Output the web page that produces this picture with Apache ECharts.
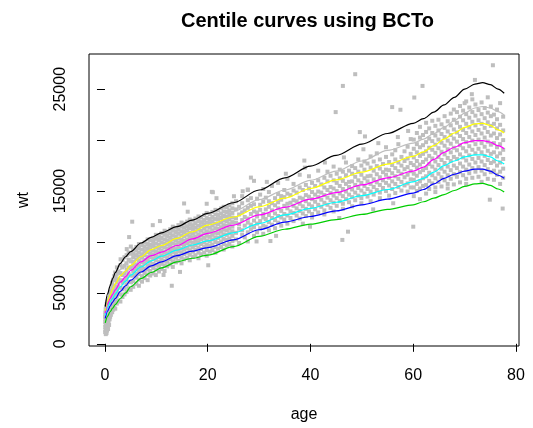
<!DOCTYPE html>
<html>
<head>
<meta charset="utf-8">
<script src="https://cdn.jsdelivr.net/npm/echarts@6/dist/echarts.min.js"></script>
<style>
  html, body { margin: 0; padding: 0; background: #fff; }
  #main { width: 533px; height: 428px; }
</style>
</head>
<body>
<div id="main"></div>
<script>
// centile curves, age in years, wt
var curveAge = [0.05, 0.5, 1, 1.5, 2, 3, 4, 5, 7, 9, 11, 14, 17, 20, 25, 30, 35, 40, 45, 50, 55, 60, 62, 64, 66, 68, 70, 72, 73.5, 75, 76.5, 77.7];
var cGreen   = [2050, 2700, 3150, 3500, 3850, 4450, 5000, 5600, 6400, 7000, 7450, 8050, 8400, 8700, 9550, 10550, 11250, 11750, 12200, 12700, 13200, 13650, 13950, 14300, 14650, 15050, 15450, 15700, 15750, 15550, 15200, 14900];
var cBlue    = [2500, 3200, 3700, 4100, 4450, 5150, 5700, 6250, 7050, 7650, 8050, 8650, 9100, 9450, 10200, 11200, 11950, 12500, 13050, 13650, 14200, 14800, 15150, 15700, 16250, 16650, 16950, 17150, 17150, 16950, 16550, 16250];
var cCyan    = [2800, 3550, 4100, 4450, 4900, 5600, 6150, 6750, 7550, 8150, 8600, 9200, 9700, 10100, 10900, 11800, 12650, 13300, 13900, 14550, 15150, 15900, 16250, 16850, 17500, 17950, 18350, 18550, 18550, 18350, 17950, 17650];
var cMagenta = [3000, 3900, 4450, 4850, 5300, 6050, 6600, 7200, 8050, 8650, 9000, 9650, 10300, 10850, 11650, 12650, 13400, 14200, 14850, 15600, 16300, 16950, 17350, 18100, 18800, 19300, 19750, 19950, 19950, 19800, 19450, 19150];
var cYellow  = [3250, 4200, 4800, 5400, 5900, 6700, 7150, 7700, 8550, 9250, 9650, 10350, 11000, 11650, 12450, 13450, 14300, 15250, 16100, 16850, 17650, 18400, 18850, 19450, 20100, 20700, 21250, 21600, 21650, 21450, 21000, 20700];
var cGray    = [3450, 4500, 5300, 5900, 6400, 7300, 7900, 8400, 9150, 9700, 10200, 10850, 11450, 12050, 13000, 14150, 15100, 16050, 16950, 17950, 19000, 19700, 20100, 20650, 21250, 21900, 22650, 23150, 23300, 23150, 22800, 22450];
var cBlack   = [3650, 4900, 5700, 6400, 7000, 7900, 8550, 9050, 9900, 10450, 10900, 11500, 12150, 12800, 13850, 15100, 16300, 17450, 18500, 19600, 20650, 21650, 22100, 22750, 23450, 24200, 25000, 25500, 25650, 25450, 25000, 24600];

// observations [age, wt]
var obsInfant = [[0.04,1150],[0.06,1650],[0.05,2150],[0.03,2650],[0.07,3050],[0.1,1350],[0.12,1900],[0.09,2450],[0.11,2850],[0.13,3400],
  [0.16,950],[0.18,1550],[0.15,2250],[0.17,2700],[0.2,3250],[0.22,1200],[0.24,1800],[0.21,2550],[0.26,3000],[0.25,3650],
  [0.3,1050],[0.33,1500],[0.31,2100],[0.35,2800],[0.29,3350],[0.34,3900],[0.4,1300],[0.42,2000],[0.38,2650],[0.44,3150],[0.41,3700],
  [0.5,1750],[0.52,2300],[0.48,2950],[0.55,3500],[0.51,4150],[0.6,1450],[0.63,2600],[0.58,3250],[0.62,3850],
  [0.7,2050],[0.72,2800],[0.68,3450],[0.74,4250],[0.8,1850],[0.83,3050],[0.79,3700],[0.82,4500],[0.9,2400],[0.93,3300],[0.88,4000],[0.92,4850],
  [1.0,2650],[1.02,3550],[0.98,4300],[1.03,5100],
  [1.15,2850],[1.2,3500],[1.18,4250],[1.22,4900],[1.17,5650],[1.4,3100],[1.38,3850],[1.43,4500],[1.41,5250],[1.37,6000],
  [1.6,3350],[1.63,4050],[1.58,4700],[1.62,5450],[1.59,6300],[1.8,3550],[1.83,4300],[1.78,5050],[1.82,5700],[1.81,6650],
  [2.0,3450],[2.05,4150],[1.97,4800],[2.03,5550],[2.01,6250],[1.99,7000],[2.3,3950],[2.28,4650],[2.33,5300],[2.31,6050],[2.27,6800],[2.32,7500],
  [2.6,4250],[2.63,4900],[2.58,5650],[2.62,6350],[2.61,7100],[3.0,4150],[3.05,4850],[2.97,5500],[3.03,6250],[3.01,6950],[2.98,7700],[3.04,8300],
  [3.4,4600],[3.37,5350],[3.43,6000],[3.41,6750],[3.38,7500],[3.42,8250],[3.8,4850],[3.83,5500],[3.78,6250],[3.82,6900],[3.81,7650],[3.79,8500],
  [4.2,5100],[4.23,5850],[4.18,6500],[4.22,7250],[4.19,7900],[4.21,8700],[4.24,9300],[4.6,5450],[4.63,6100],[4.58,6850],[4.62,7500],[4.61,8250],[4.59,8950],
  [5.0,5300],[5.04,6050],[4.97,6700],[5.02,7450],[5.01,8100],[4.98,8850],[5.03,9550]];

// ages 5-25: one row per age column
var youngAge = [5.5, 6.1, 6.6, 7.2, 7.7, 8.3, 8.8, 9.4, 9.9, 10.5, 11.0, 11.6, 12.1, 12.7, 13.2, 13.8, 14.3, 14.9, 15.4, 16.0, 16.5, 17.1, 17.6, 18.2, 18.7, 19.3, 19.8, 20.4, 20.9, 21.5, 22.0, 22.6, 23.1, 23.7, 24.2, 24.8];
var youngWt = [
  [5600, 6150, 6700, 7150, 7650, 8050, 8500, 8850, 9250],
  [5900, 6500, 6900, 7400, 7800, 8300, 8700, 9150, 9500],
  [5700, 6300, 6850, 7250, 7700, 8150, 8550, 8950, 9400, 9800],
  [6100, 6650, 7200, 7550, 8000, 8450, 8800, 9250, 9700],
  [6450, 6950, 7400, 7900, 8250, 8700, 9100, 9550, 9950],
  [6250, 6800, 7300, 7700, 8150, 8550, 9000, 9350, 9800, 10250],
  [6700, 7150, 7650, 8050, 8500, 8900, 9300, 9700, 10150],
  [6900, 7450, 7850, 8350, 8750, 9150, 9600, 10000, 10400],
  [6750, 7300, 7750, 8200, 8600, 9050, 9450, 9850, 10300, 10700],
  [7100, 7650, 8050, 8500, 8950, 9350, 9750, 10200, 10600],
  [7350, 7850, 8300, 8700, 9150, 9550, 9950, 10400, 10850],
  [7150, 7700, 8150, 8600, 9000, 9450, 9850, 10250, 10700, 11100],
  [7600, 8050, 8500, 8900, 9350, 9750, 10150, 10600, 11000],
  [7800, 8300, 8750, 9150, 9600, 10000, 10400, 10850, 11250],
  [7550, 8100, 8550, 9000, 9400, 9850, 10250, 10650, 11100, 11500],
  [8000, 8450, 8900, 9300, 9750, 10150, 10550, 11000, 11400],
  [8150, 8650, 9100, 9500, 9950, 10350, 10800, 11200, 11650],
  [7900, 8450, 8950, 9350, 9800, 10200, 10650, 11050, 11500, 11900],
  [8300, 8800, 9250, 9700, 10100, 10550, 10950, 11400, 11800],
  [8450, 8950, 9400, 9850, 10250, 10700, 11100, 11550, 12000],
  [8200, 8750, 9200, 9650, 10050, 10500, 10900, 11350, 11750, 12200],
  [8550, 9050, 9500, 9950, 10400, 10800, 11250, 11650, 12100],
  [8700, 9250, 9700, 10100, 10550, 11000, 11400, 11850, 12300],
  [8400, 8950, 9450, 9900, 10300, 10750, 11200, 11600, 12050, 12500],
  [8800, 9300, 9800, 10250, 10650, 11100, 11550, 11950, 12400],
  [8950, 9500, 9950, 10400, 10850, 11300, 11700, 12150, 12650],
  [8650, 9200, 9700, 10150, 10600, 11050, 11500, 11900, 12350, 12850],
  [9050, 9600, 10050, 10500, 10950, 11400, 11850, 12250, 12750],
  [9200, 9750, 10250, 10700, 11150, 11600, 12000, 12450, 12950],
  [8950, 9500, 10000, 10450, 10900, 11350, 11800, 12250, 12700, 13150],
  [9350, 9900, 10400, 10850, 11300, 11750, 12200, 12650, 13100],
  [9500, 10050, 10550, 11000, 11450, 11900, 12350, 12800, 13300],
  [9250, 9800, 10300, 10750, 11200, 11650, 12100, 12550, 13000, 13450],
  [9650, 10200, 10700, 11150, 11600, 12050, 12500, 12950, 13400],
  [9800, 10350, 10850, 11300, 11750, 12200, 12650, 13100, 13600],
  [9550, 10100, 10600, 11050, 11500, 11950, 12400, 12850, 13300, 13800]
];

// ages 25-60
var adultAge = [25.5, 26.1, 26.7, 27.2, 27.8, 28.4, 29.0, 29.6, 30.2, 30.8, 31.3, 31.9, 32.5, 33.1, 33.7, 34.3, 34.9, 35.5, 36.1, 36.7, 37.3, 37.9, 38.5, 39.1, 39.7, 40.3, 40.9, 41.5, 42.1, 42.7, 43.3, 43.9, 44.5, 45.1, 45.7, 46.3, 46.9, 47.5, 48.1, 48.7, 49.3, 49.9, 50.5, 51.1, 51.7, 52.3, 52.9, 53.5, 54.1, 54.7, 55.3, 55.9, 56.5, 57.1, 57.7, 58.3, 58.9, 59.5];
var adultWt = [
  [10250, 10900, 11900, 12350, 13200, 14000], [9900, 11300, 11750, 12700, 13450], [10700, 11150, 12150, 12900, 13800, 14500],
  [10450, 11600, 12450, 13100], [10050, 10950, 11900, 12300, 13350, 14100, 15150], [11250, 11700, 12750, 13550, 14300],
  [10600, 11450, 12100, 13000, 13700, 16000], [10950, 11800, 12500, 12900, 14250], [11350, 12050, 13150, 13650, 14650],
  [10800, 11600, 12400, 12750, 13950, 15200], [11500, 12250, 13200, 14350], [11150, 11950, 12650, 13450, 14000, 14900],
  [11700, 12350, 13100, 13800, 15500], [11350, 12150, 12800, 13600, 14300], [11900, 12550, 13300, 13900, 14700, 15800],
  [11600, 12400, 13050, 14150, 14500], [12200, 12750, 13550, 14400, 15100], [11800, 12600, 13300, 13750, 14750, 16200],
  [12350, 13000, 13850, 14600], [12050, 12850, 13550, 14100, 15050, 15700], [12600, 13300, 14000, 14850],
  [12300, 13050, 13750, 14350, 15350, 16600], [11800, 12800, 13500, 14250, 15100], [12550, 13250, 14000, 14600, 15600],
  [13000, 13700, 14450, 15250, 16450], [12400, 12750, 13500, 14200, 14900, 15800], [13200, 13950, 14650, 15500],
  [12900, 13650, 14400, 14950, 16050, 17000], [13450, 14150, 14850, 15650], [12700, 13100, 13850, 14600, 15350, 16300],
  [13650, 14350, 15100, 15950, 16900], [13350, 14100, 14800, 15400, 16500], [13000, 13850, 14550, 15250, 16050, 17400],
  [13550, 14300, 15000, 15800, 16700], [14000, 14750, 15500, 16250, 17100], [13250, 13750, 14500, 15200, 16000, 16900],
  [14200, 14950, 15700, 16550, 17800], [13900, 14650, 15400, 15900, 17000], [13500, 14400, 15150, 15950, 16700, 17450],
  [14100, 14850, 15600, 16400, 17250], [14550, 15300, 16050, 16900, 18100], [13800, 14300, 15050, 15800, 16600, 17500],
  [14750, 15500, 16250, 17100, 17900], [14450, 15200, 15950, 16450, 17700], [14000, 14950, 15700, 16500, 17300, 18400],
  [14650, 15400, 16150, 17000, 17900], [15100, 15850, 16650, 17450, 18700], [14300, 14850, 15600, 16350, 17200, 18100],
  [15300, 16050, 16850, 17650], [15000, 15800, 16600, 17100, 18350, 19300], [14550, 15550, 16300, 17050, 17850],
  [15200, 15950, 16750, 17550, 18600], [14800, 15700, 16450, 17250, 18100, 19000], [15400, 16200, 16950, 17800, 19600],
  [15050, 15900, 16700, 17500, 18350], [15550, 16350, 17150, 17950, 18900], [14950, 15750, 16600, 17350, 18200, 19350],
  [15350, 16150, 16950, 17750, 18650, 20100]
];

// ages 60-78
var oldAge = [60.1, 60.7, 61.3, 61.9, 62.5, 63.1, 63.7, 64.3, 64.9, 65.5, 66.1, 66.7, 67.3, 67.9, 68.5, 69.1, 69.7, 70.3, 70.9, 71.5, 72.1, 72.7, 73.3, 73.9, 74.5, 75.1, 75.7, 76.3, 76.9, 77.5];
var oldWt = [
  [14500, 15350, 16100, 16700, 17550, 18300, 19150, 20050],
  [15000, 15700, 16500, 17300, 17950, 18800, 19600, 20700],
  [14200, 15250, 15950, 16850, 17600, 18450, 19300, 20250, 21300],
  [15500, 16250, 17050, 17850, 18650, 19500, 20500],
  [14750, 15600, 16450, 17250, 18100, 18900, 19800, 20800, 21700],
  [15200, 16000, 16800, 17650, 18450, 19250, 20150, 21150],
  [15750, 16550, 17400, 18200, 19050, 19900, 20700, 21900],
  [14900, 15350, 16250, 17100, 17900, 18750, 19550, 20450, 21400],
  [15900, 16700, 17550, 18350, 19200, 20050, 20950, 22000],
  [15450, 16350, 17200, 18050, 18850, 19750, 20600, 21550],
  [16050, 16900, 17750, 18600, 19450, 20300, 21200, 22350],
  [15250, 15700, 16550, 17400, 18250, 19100, 19950, 20850, 21850],
  [16200, 17050, 17950, 18800, 19650, 20500, 21450, 22600],
  [15650, 16650, 17500, 18350, 19250, 20150, 21050, 22000, 23000],
  [16400, 17250, 18150, 19000, 19850, 20750, 21700, 22750],
  [15850, 16850, 17700, 18600, 19500, 20400, 21300, 22300, 23350],
  [16550, 17400, 18300, 19200, 20100, 21000, 21950, 22900],
  [15700, 16200, 17100, 18000, 18900, 19800, 20700, 21600, 22550, 23800],
  [16750, 17600, 18500, 19400, 20300, 21250, 22200, 23200],
  [16300, 17250, 18150, 19050, 19950, 20850, 21800, 22750, 24000],
  [16900, 17800, 18700, 19600, 20500, 21450, 22400, 23500],
  [16400, 17350, 18250, 19150, 20050, 21000, 21950, 22950],
  [15900, 17000, 17900, 18800, 19700, 20650, 21600, 22550, 23700],
  [16650, 17550, 18450, 19350, 20250, 21200, 22150, 23150],
  [16200, 17150, 18050, 18950, 19850, 20800, 21750, 22700, 24200],
  [16850, 17750, 18650, 19550, 20450, 21400, 22350, 23300],
  [16100, 17000, 17900, 18800, 19700, 20650, 21600, 22500],
  [16600, 17500, 18400, 19300, 20200, 21150, 22050, 23000],
  [15700, 16900, 17800, 18700, 19600, 20550, 21500],
  [16300, 17200, 18150, 19050, 20000, 20950, 22300]
];

var obsOutliers = [[5.3,11990],[4.7,10480],[9.3,11650],[10.7,12050],[15.4,13780],[16.1,12970],[19.8,13750],[21.0,14880],[21.7,14300],
  [25.1,14490],[26.8,14980],[28.4,16320],[20.8,14920],[13.0,5700],[11.4,6760],[14.6,7060],[20.1,7710],[32.2,10090],[38.8,17990],
  [44.9,22750],[46.3,25320],[48.7,26470],[49.6,20790],[50.6,20360],[46.2,10200],[47.3,11010],[55.9,23240],[57.5,22980],
  [60.2,24180],[61.8,25320],[60.0,11500],[71.4,24510],[70.0,23630],[72.0,25910],[75.5,27350],[76.9,23630],[74.9,14150],[77.4,13280],
  [27.8,15100],[31.5,15900],[35.2,16700],[38.9,17300],[42.8,17800],[46.5,18300],[50.3,19100],[53.2,19700],[57.0,20300],[59.0,20900],
  [33.3,10600],[39.9,11500],[45.6,12350],[52.2,13200],[56.1,13800],[29.5,10050]];

var xTicks = [0, 20, 40, 60, 80];
var yTicks = [0, 5000, 10000, 15000, 20000, 25000];
var yLabels = [0, 5000, 15000, 25000];

var FONT = '"Liberation Sans", Arial, sans-serif';

function columns(ages, rows) {
  var out = [];
  ages.forEach(function (a, i) {
    rows[i].forEach(function (w) { out.push([a, w]); });
  });
  return out;
}
function curve(ys, color) {
  return {
    type: 'line', smooth: 0.3, smoothMonotone: 'x', showSymbol: false, symbol: 'none',
    data: curveAge.map(function (a, i) { return [a, ys[i]]; }),
    lineStyle: { color: color, width: 1.2 }, z: 3
  };
}

var points = obsInfant.concat(columns(youngAge, youngWt), columns(adultAge, adultWt), columns(oldAge, oldWt), obsOutliers);

var chart = echarts.init(document.getElementById('main'));
chart.setOption({
  animation: false,
  backgroundColor: '#fff',
  title: {
    text: 'Centile curves using BCTo',
    left: 176, top: 6,
    textStyle: { fontFamily: FONT, fontSize: 20, fontWeight: 'bold', color: '#000' }
  },
  grid: {
    left: 89, right: 14, top: 54, bottom: 81,
    show: true, borderColor: '#000', borderWidth: 1, backgroundColor: 'transparent'
  },
  xAxis: {
    type: 'value', min: -3.11, max: 80.58,
    name: 'age', nameLocation: 'middle', nameGap: 61,
    nameTextStyle: { fontFamily: FONT, fontSize: 16, color: '#000' },
    axisLine: { show: false },
    splitLine: { show: false },
    axisTick: { show: true, length: 8, customValues: xTicks, lineStyle: { color: '#000' } },
    axisLabel: { customValues: xTicks, margin: 22, fontFamily: FONT, fontSize: 16, color: '#000' }
  },
  yAxis: {
    type: 'value', min: -215, max: 28454,
    name: 'wt', nameLocation: 'middle', nameGap: 57, nameRotate: 90,
    nameTextStyle: { fontFamily: FONT, fontSize: 16, color: '#000' },
    axisLine: { show: false },
    splitLine: { show: false },
    axisTick: { show: true, length: 8, customValues: yTicks, lineStyle: { color: '#000' } },
    axisLabel: {
      customValues: yLabels, rotate: 90, margin: 20, fontFamily: FONT, fontSize: 16, color: '#000',
      formatter: function (v) { return String(v); }
    }
  },
  series: [
    {
      type: 'scatter', symbol: 'rect', symbolSize: 4, data: points,
      itemStyle: { color: '#BEBEBE', opacity: 1 }, z: 2
    },
    curve(cGreen, '#00CD00'),
    curve(cBlue, '#0000FF'),
    curve(cCyan, '#00FFFF'),
    curve(cMagenta, '#FF00FF'),
    curve(cYellow, '#FFFF00'),
    curve(cGray, '#BEBEBE'),
    curve(cBlack, '#000000')
  ]
});
</script>
</body>
</html>
